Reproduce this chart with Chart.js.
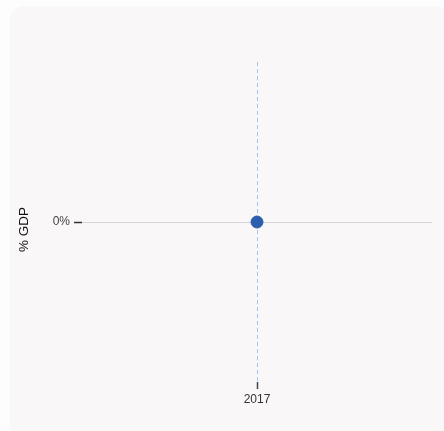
<!DOCTYPE html>
<html lang="en">
<head>
    <meta charset="UTF-8">
    <title>% GDP</title>
    <script src="https://cdn.jsdelivr.net/npm/chart.js"></script>
    <style>
        html, body { margin: 0; padding: 0; background: #fdfdfd; }
        .card {
            position: absolute; left: 10px; top: 6px; width: 440px; height: 431px;
            background: #f9f7f8; border-radius: 14px;
        }
        #chartContainer { position: absolute; left: 0; top: 0; width: 444px; height: 431px; }
    </style>
</head>
<body>
    <div class="card"></div>
    <div id="chartContainer">
        <canvas id="gdpChart"></canvas>
    </div>

    <script>
        // données
        const years = ['2017'];
        const gdpValues = [0];
        const yTicks = [0];

        const ctx = document.getElementById('gdpChart').getContext('2d');

        new Chart(ctx, {
            type: 'line',
            data: {
                labels: years,
                datasets: [{
                    label: 'GDP',
                    data: gdpValues,
                    borderColor: '#2b5fad',
                    backgroundColor: '#2b5fad',
                    pointRadius: 6,
                    pointHoverRadius: 6,
                    showLine: false
                }]
            },
            options: {
                responsive: true,
                maintainAspectRatio: false,
                animation: false,
                layout: { padding: { top: 62, right: 12, bottom: 0, left: 0 } },
                plugins: {
                    legend: { display: false },
                    tooltip: { enabled: false }
                },
                scales: {
                    x: {
                        offset: true,
                        border: { display: false, dash: [4, 3] },
                        grid: {
                            color: '#a6c3ea',
                            lineWidth: 1,
                            tickBorderDash: [],
                            tickColor: '#444',
                            tickLength: 7,
                            tickWidth: 1.5
                        },
                        ticks: {
                            color: '#333',
                            font: { family: "'Liberation Sans', Arial, sans-serif", size: 12 },
                            padding: 3,
                            maxRotation: 0
                        },
                        afterFit: function(scale) { scale.height = 49; }
                    },
                    y: {
                        min: -1,
                        max: 1,
                        afterBuildTicks: function(scale) {
                            scale.ticks = yTicks.map(v => ({ value: v }));
                        },
                        border: { display: false },
                        grid: {
                            color: '#d4d4d4',
                            tickColor: '#333',
                            tickLength: 8,
                            tickWidth: 1.5
                        },
                        ticks: {
                            color: '#444',
                            font: { family: "'Liberation Sans', Arial, sans-serif", size: 12 },
                            padding: 4,
                            callback: v => v + '%'
                        },
                        title: {
                            display: true,
                            // espaces en fin pour descendre le titre (centré sur l'axe)
                            text: '% GDP    ',
                            color: '#111',
                            font: { family: "'Liberation Sans', Arial, sans-serif", size: 13.5 },
                            padding: { top: 16, bottom: 0 }
                        },
                        afterFit: function(scale) { scale.width = 82; }
                    }
                }
            }
        });
    </script>
</body>
</html>
